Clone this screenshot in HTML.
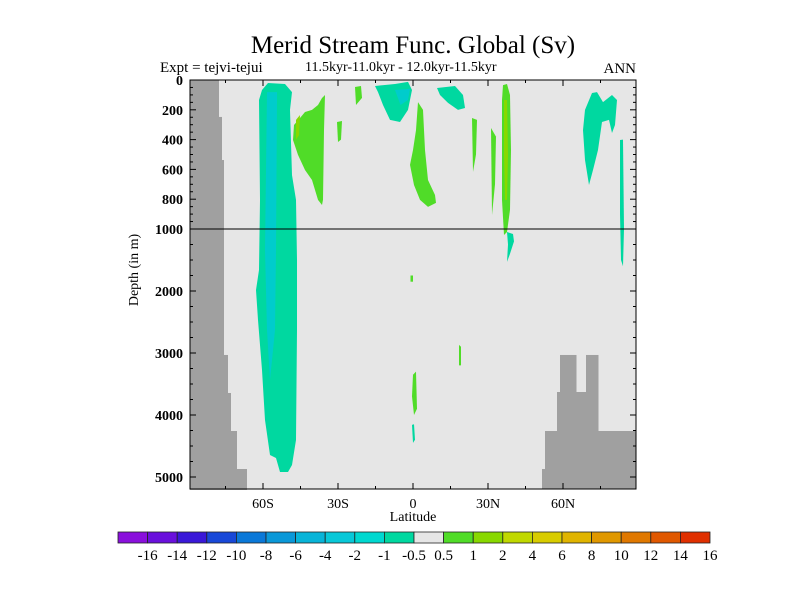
<!DOCTYPE html>
<html><head><meta charset="utf-8"><style>
body{margin:0;background:#fff;}
svg{display:block;font-family:"Liberation Serif",serif;}
</style></head><body>
<svg id="c" width="800" height="600" xmlns="http://www.w3.org/2000/svg">
<text x="413" y="53" font-size="25" text-anchor="middle">Merid Stream Func. Global (Sv)</text>
<text x="160" y="72" font-size="15">Expt = tejvi-tejui</text>
<text x="305" y="71" font-size="14">11.5kyr-11.0kyr - 12.0kyr-11.5kyr</text>
<text x="636" y="73" font-size="15" text-anchor="end">ANN</text>
<text x="413" y="521" font-size="14" text-anchor="middle">Latitude</text>
<text transform="translate(138,270) rotate(-90)" font-size="14" text-anchor="middle">Depth (in m)</text>
<g id="plot"></g>
<g id="cbar"></g>
</svg>
<script>
const xTicks=[-60,-30,0,30,60];
const xTickLabels=["60S","30S","0","30N","60N"];
const yTicks=[0,200,400,600,800,1000,2000,3000,4000,5000];
const cbLabels=["-16","-14","-12","-10","-8","-6","-4","-2","-1","-0.5","0.5","1","2","4","6","8","10","12","14","16"];
const cbColors=["#8a10dc","#6a10dc","#3a18d8","#1848d8","#0a78d8","#0a98d8","#08b4d8","#08c8d8","#00d8d0","#00d8a0","#e6e6e6","#50dc28","#88d800","#c0d800","#d8cc00","#e0b400","#e09800","#e07800","#e05800","#e03000"];
const leftLand=[[-77.6,0,248],[-76.4,248,537],[-75.6,537,3032],[-74,3032,3645],[-72.8,3645,4258],[-70.4,4258,4871],[-66.4,4871,5200]];
const rightLand=[[51.6,52.8,4871],[52.8,57.6,4258],[57.6,58.8,3629],[58.8,65.2,3032],[65.2,69.2,3629],[69.2,74,3032],[74,89.2,4258]];
const blobs=[
 {c:"#00d8a0",p:[[-60.4,67],[-58,20],[-51.2,27],[-48.4,81],[-49.2,201],[-48.4,638],[-46.8,805],[-46.4,1500],[-46.4,2629],[-46.8,4403],[-48.4,4806],[-50,4919],[-53.2,4919],[-54.8,4694],[-57.2,4645],[-59.2,4081],[-60.4,3274],[-62,2468],[-62.8,1984],[-61.6,1661],[-61.2,805],[-61.6,134]]},
 {c:"#00cccc",p:[[-58.4,81],[-54.4,81],[-54.8,1339],[-55.2,2629],[-57.2,3435],[-58.4,2629],[-59.2,1339]]},
 {c:"#50dc28",p:[[-47.6,302],[-45.2,255],[-43.2,215],[-40.4,201],[-38,168],[-36.4,121],[-35.2,101],[-35.6,336],[-36,805],[-36.4,839],[-38,805],[-40.4,671],[-43.2,604],[-46,503],[-48,403]]},
 {c:"#88d800",p:[[-46.8,268],[-45.2,235],[-45.6,370],[-46.8,400]]},
 {c:"#50dc28",p:[[-30.4,282],[-28.4,275],[-28.8,400],[-30,416]]},
 {c:"#50dc28",p:[[-23.2,47],[-20.8,40],[-20.4,120],[-22.8,168]]},
 {c:"#00d8a0",p:[[-15.2,40],[-7.2,27],[-2,13],[-0.4,67],[-2,201],[-5.2,282],[-9.2,268],[-12,168],[-14,81]]},
 {c:"#00cccc",p:[[-7.2,67],[-1.2,60],[-2,134],[-5,168]]},
 {c:"#00d8a0",p:[[9.6,54],[16.8,40],[20,101],[20.8,188],[18,201],[14,154],[10.8,101]]},
 {c:"#50dc28",p:[[2,148],[4,201],[4.8,470],[6,671],[8.8,772],[9.2,825],[6,852],[2.8,805],[0.4,705],[-1.2,570],[0,470],[1.2,336]]},
 {c:"#50dc28",p:[[23.6,255],[25.6,268],[25.2,500],[24,617]]},
 {c:"#50dc28",p:[[31.2,322],[33.2,380],[32.8,700],[31.6,906]]},
 {c:"#50dc28",p:[[36,34],[37.6,27],[38.8,101],[39.2,470],[38.8,872],[37.6,1048],[36.4,1097],[35.6,805],[35.6,134]]},
 {c:"#88d800",p:[[36.4,134],[37.6,134],[38,500],[37.6,805],[36.8,805],[36.4,500]]},
 {c:"#00d8a0",p:[[37.6,1048],[40,1080],[40.4,1200],[38.8,1400],[37.6,1530],[38,1250]]},
 {c:"#00d8a0",p:[[68.8,201],[71.6,87],[73.6,81],[76,148],[79.6,101],[81.6,134],[80.8,302],[79.6,356],[78.4,268],[75.6,282],[74,470],[72,604],[70.4,705],[68.8,537],[68,336]]},
 {c:"#00d8a0",p:[[82.8,403],[84,400],[84.4,1000],[84,1600],[83.2,1500],[82.8,900]]},
 {c:"#50dc28",p:[[-1,1750],[0,1750],[0,1850],[-1,1850]]},
 {c:"#50dc28",p:[[18.4,2870],[19.2,2900],[19.2,3200],[18.4,3200]]},
 {c:"#50dc28",p:[[0,3350],[1.2,3300],[1.6,3900],[0.4,4000],[-0.4,3700]]},
 {c:"#00d8a0",p:[[-0.4,4160],[0.4,4150],[0.8,4400],[0,4450]]}
];
const L=190,R=636,T=80,B=489;
function X(lat){return 413+lat*2.5;}
function Y(d){return d<=1000?T+d*0.149:229+(d-1000)*0.062;}
const NS="http://www.w3.org/2000/svg";
function mk(tag,attrs,parent){const e=document.createElementNS(NS,tag);for(const k in attrs)e.setAttribute(k,attrs[k]);parent.appendChild(e);return e;}
const g=document.getElementById('plot');
let e=mk('rect',{x:L,y:T,width:R-L,height:B-T,fill:'#e6e6e6'},g);


blobs.forEach(b=>{
 const el=mk('polygon',{points:b.p.map(q=>X(q[0]).toFixed(1)+','+Y(q[1]).toFixed(1)).join(' '),fill:b.c},g);
 
 
});
leftLand.forEach(s=>{
 const el=mk('rect',{x:L,y:Y(s[1]),width:X(s[0])-L,height:Y(s[2])-Y(s[1])+0.5,fill:'#a0a0a0'},g);
 
 
});
rightLand.forEach(s=>{
 const el=mk('rect',{x:X(s[0]),y:Y(s[2]),width:X(s[1])-X(s[0])+0.5,height:B-Y(s[2]),fill:'#a0a0a0'},g);
 
 
});
e=mk('line',{x1:L,x2:R,y1:Y(1000),y2:Y(1000),stroke:'#000','stroke-width':1},g);


e=mk('rect',{x:L,y:T,width:R-L,height:B-T,fill:'none',stroke:'#000','stroke-width':1},g);


xTicks.forEach((t,i)=>{
 mk('line',{x1:X(t),x2:X(t),y1:B,y2:B-6,stroke:'#000'},g);
 mk('line',{x1:X(t),x2:X(t),y1:T,y2:T+6,stroke:'#000'},g);
 const tx=mk('text',{x:X(t),y:508,'font-size':14,'text-anchor':'middle'},g);
 tx.textContent=xTickLabels[i];
 
 
});
for(let t=-75;t<=85;t+=15){if(t%30!==0){mk('line',{x1:X(t),x2:X(t),y1:B,y2:B-3,stroke:'#000'},g);mk('line',{x1:X(t),x2:X(t),y1:T,y2:T+3,stroke:'#000'},g);}}
yTicks.forEach(t=>{
 mk('line',{x1:L,x2:L+6,y1:Y(t),y2:Y(t),stroke:'#000'},g);
 mk('line',{x1:R,x2:R-6,y1:Y(t),y2:Y(t),stroke:'#000'},g);
 const tx=mk('text',{x:183,y:Y(t)+5,'font-size':14,'font-weight':'bold','text-anchor':'end'},g);
 tx.textContent=String(t);
 
 
});
for(let d=50;d<5200;d+=(d<1000?50:250)){if(d%200!==0||d>1000){mk('line',{x1:L,x2:L+3,y1:Y(d),y2:Y(d),stroke:'#000'},g);mk('line',{x1:R,x2:R-3,y1:Y(d),y2:Y(d),stroke:'#000'},g);}}
const cb=document.getElementById('cbar');
const cx0=118,cw=(710-118)/cbColors.length;
cbColors.forEach((c,i)=>{
 const r=mk('rect',{x:cx0+i*cw,y:532,width:cw,height:11,fill:c,stroke:'#222','stroke-width':0.8},cb);
 
 
});
cbLabels.forEach((l,i)=>{
 const tx=mk('text',{x:cx0+(i+1)*cw,y:560,'font-size':15,'text-anchor':'middle'},cb);
 tx.textContent=l;
 
 
});
</script>
</body></html>
